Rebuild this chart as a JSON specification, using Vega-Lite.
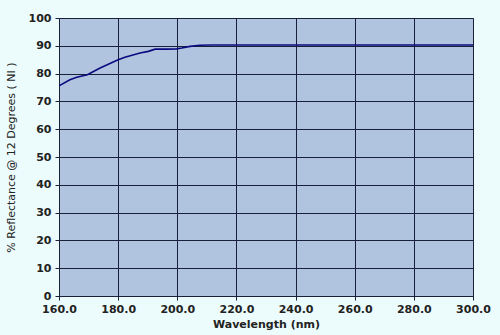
{
  "$schema": "https://vega.github.io/schema/vega-lite/v6.json",
  "width": 414,
  "height": 278,
  "autosize": {"type": "none"},
  "padding": {"left": 59, "top": 18, "right": 27, "bottom": 39},
  "background": "#ecfbfb",
  "config": {
    "view": {"fill": "#b0c3df", "stroke": "#5f6f88", "strokeWidth": 1},
    "axis": {
      "labelFont": "DejaVu Sans",
      "labelFontSize": 11,
      "labelFontWeight": "bold",
      "labelColor": "#222222",
      "titleFont": "DejaVu Sans",
      "titleFontSize": 11,
      "titleFontWeight": "bold",
      "titleColor": "#222222",
      "gridColor": "#1a1f3a",
      "gridOpacity": 1,
      "gridWidth": 1,
      "tickColor": "#1a1f3a",
      "domainColor": "#1a1f3a",
      "tickSize": 4,
      "labelFlush": false,
      "labelOverlap": false
    }
  },
  "data": {
    "values": [
      {"wl": 160.0, "r": 75.6},
      {"wl": 163.7, "r": 77.8},
      {"wl": 166.0, "r": 78.7},
      {"wl": 169.6, "r": 79.6},
      {"wl": 173.9, "r": 82.0},
      {"wl": 180.0, "r": 85.0},
      {"wl": 182.3, "r": 85.9},
      {"wl": 187.4, "r": 87.4},
      {"wl": 190.2, "r": 88.0},
      {"wl": 192.5, "r": 88.8},
      {"wl": 196.4, "r": 88.8},
      {"wl": 199.8, "r": 88.9},
      {"wl": 201.5, "r": 89.2},
      {"wl": 204.3, "r": 89.8},
      {"wl": 207.7, "r": 90.2},
      {"wl": 212.0, "r": 90.3},
      {"wl": 220.0, "r": 90.3},
      {"wl": 240.0, "r": 90.3},
      {"wl": 260.0, "r": 90.3},
      {"wl": 280.0, "r": 90.3},
      {"wl": 300.0, "r": 90.3}
    ]
  },
  "mark": {"type": "line", "color": "#0a0a80", "strokeWidth": 1.6, "clip": true},
  "encoding": {
    "x": {
      "field": "wl",
      "type": "quantitative",
      "scale": {"domain": [160, 300], "nice": false, "zero": false},
      "axis": {"values": [160, 180, 200, 220, 240, 260, 280, 300], "format": ".1f", "title": "Wavelength (nm)", "titlePadding": 4, "labelPadding": 3}
    },
    "y": {
      "field": "r",
      "type": "quantitative",
      "scale": {"domain": [0, 100], "nice": false},
      "axis": {"values": [0, 10, 20, 30, 40, 50, 60, 70, 80, 90, 100], "title": "% Reflectance @ 12 Degrees ( NI )", "titleFontSize": 11, "titleFontWeight": "normal", "titlePadding": 12, "labelPadding": 4}
    }
  }
}
